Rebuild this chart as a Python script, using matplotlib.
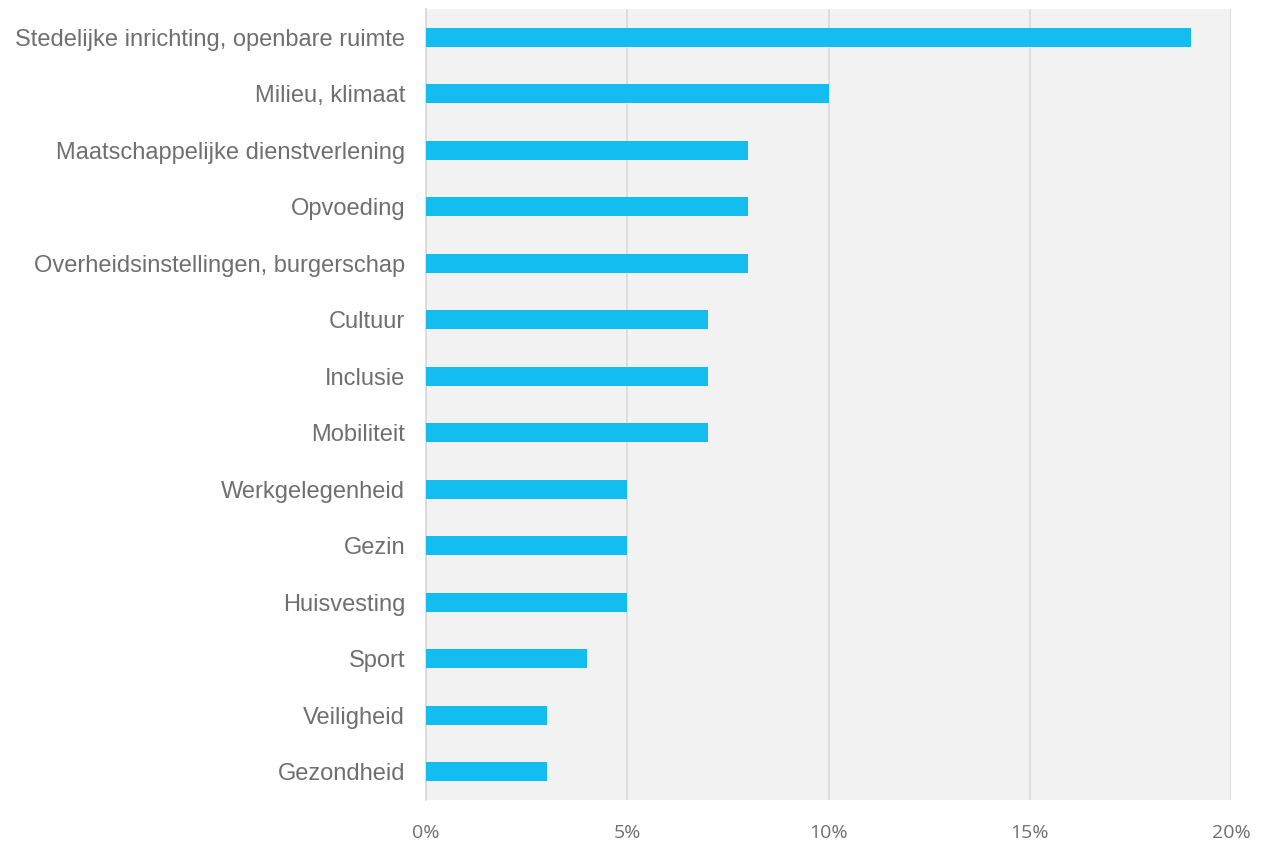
import matplotlib.pyplot as plt
import numpy as np

categories = [
    'Stedelijke inrichting, openbare ruimte',
    'Milieu, klimaat',
    'Maatschappelijke dienstverlening',
    'Opvoeding',
    'Overheidsinstellingen, burgerschap',
    'Cultuur',
    'Inclusie',
    'Mobiliteit',
    'Werkgelegenheid',
    'Gezin',
    'Huisvesting',
    'Sport',
    'Veiligheid',
    'Gezondheid',
]
values = [19, 10, 8, 8, 8, 7, 7, 7, 5, 5, 5, 4, 3, 3]
xticks = [0, 5, 10, 15, 20]
xtick_labels = ['0%', '5%', '10%', '15%', '20%']

fig = plt.figure(figsize=(12.63, 8.42), dpi=100)
ax = fig.add_axes([426 / 1263, 1 - 800 / 842, (1231 - 426) / 1263, (800 - 9) / 842])
ax.set_facecolor('#f2f2f2')

y = np.arange(len(categories))
ax.barh(y, values, height=0.34, color='#13bdf0', zorder=3)

ax.set_ylim(len(categories) - 0.5, -0.5)
ax.set_xlim(0, 20)
ax.set_yticks(y)
ax.set_yticklabels(categories, fontfamily='Liberation Sans', fontsize=17, color='#6f6f6f')
ax.set_xticks(xticks)
ax.set_xticklabels(xtick_labels, fontfamily='Open Sans', fontsize=14, color='#6f6f6f')
ax.tick_params(axis='both', length=0)
ax.tick_params(axis='y', pad=15)
ax.tick_params(axis='x', pad=17)

ax.grid(axis='x', color='#d9d9d9', linewidth=1.2, zorder=0)
for s in ['top', 'right', 'bottom']:
    ax.spines[s].set_visible(False)
ax.spines['left'].set_color('#d9d9d9')
ax.spines['left'].set_linewidth(1.2)

fig.savefig('out.png', dpi=100)
